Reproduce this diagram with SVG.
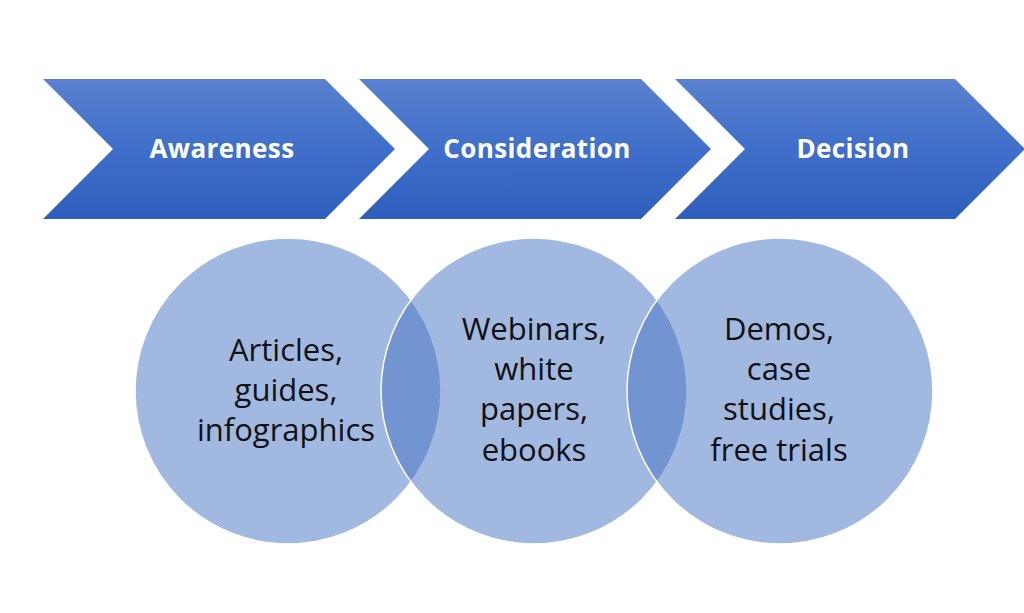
<svg xmlns="http://www.w3.org/2000/svg" width="1024" height="613" viewBox="0 0 1024 613">
<defs>
<linearGradient id="chev" x1="0" y1="0" x2="0" y2="1">
<stop offset="0" stop-color="#5b81cf"/>
<stop offset="0.5" stop-color="#3f6fca"/>
<stop offset="1" stop-color="#2f5fbd"/>
</linearGradient>
<style>
.chev{fill:url(#chev);}
.chevt{font-family:"Open Sans","Liberation Sans",sans-serif;font-weight:bold;font-size:26px;letter-spacing:0.4px;fill:#ffffff;text-anchor:middle;}
.circ{fill:#4472c4;fill-opacity:0.5;stroke:#ffffff;stroke-width:1.5;}
.ct{font-family:"Open Sans","Liberation Sans",sans-serif;font-size:31px;fill:#111111;text-anchor:middle;}
</style>
</defs>
<rect width="1024" height="613" fill="#ffffff"/>
<g id="chevron-awareness">
<polygon class="chev" points="43,79 325,79 395,149 325,219 43,219 113,149"/>
<text class="chevt" x="222" y="158">Awareness</text>
</g>
<g id="chevron-consideration">
<polygon class="chev" points="359,79 641,79 711,149 641,219 359,219 429,149"/>
<text class="chevt" x="537" y="158">Consideration</text>
</g>
<g id="chevron-decision">
<polygon class="chev" points="675,79 955,79 1025,149 955,219 675,219 745,149"/>
<text class="chevt" x="853" y="158">Decision</text>
</g>
<g id="circle-awareness">
<circle class="circ" cx="288" cy="391" r="153"/>
</g>
<g id="circle-consideration">
<circle class="circ" cx="534" cy="391" r="153"/>
</g>
<g id="circle-decision">
<circle class="circ" cx="780" cy="391" r="153"/>
</g>
<g id="labels">
<text class="ct" x="286"><tspan x="286" y="361">Articles,</tspan><tspan x="286" y="401">guides,</tspan><tspan x="286" y="441">infographics</tspan></text>
<text class="ct" x="534"><tspan x="534" y="340">Webinars,</tspan><tspan x="534" y="380">white</tspan><tspan x="534" y="420">papers,</tspan><tspan x="534" y="461">ebooks</tspan></text>
<text class="ct" x="779"><tspan x="779" y="340">Demos,</tspan><tspan x="779" y="380">case</tspan><tspan x="779" y="420">studies,</tspan><tspan x="779" y="461">free trials</tspan></text>
</g>
<g id="connectors"/>
</svg>
